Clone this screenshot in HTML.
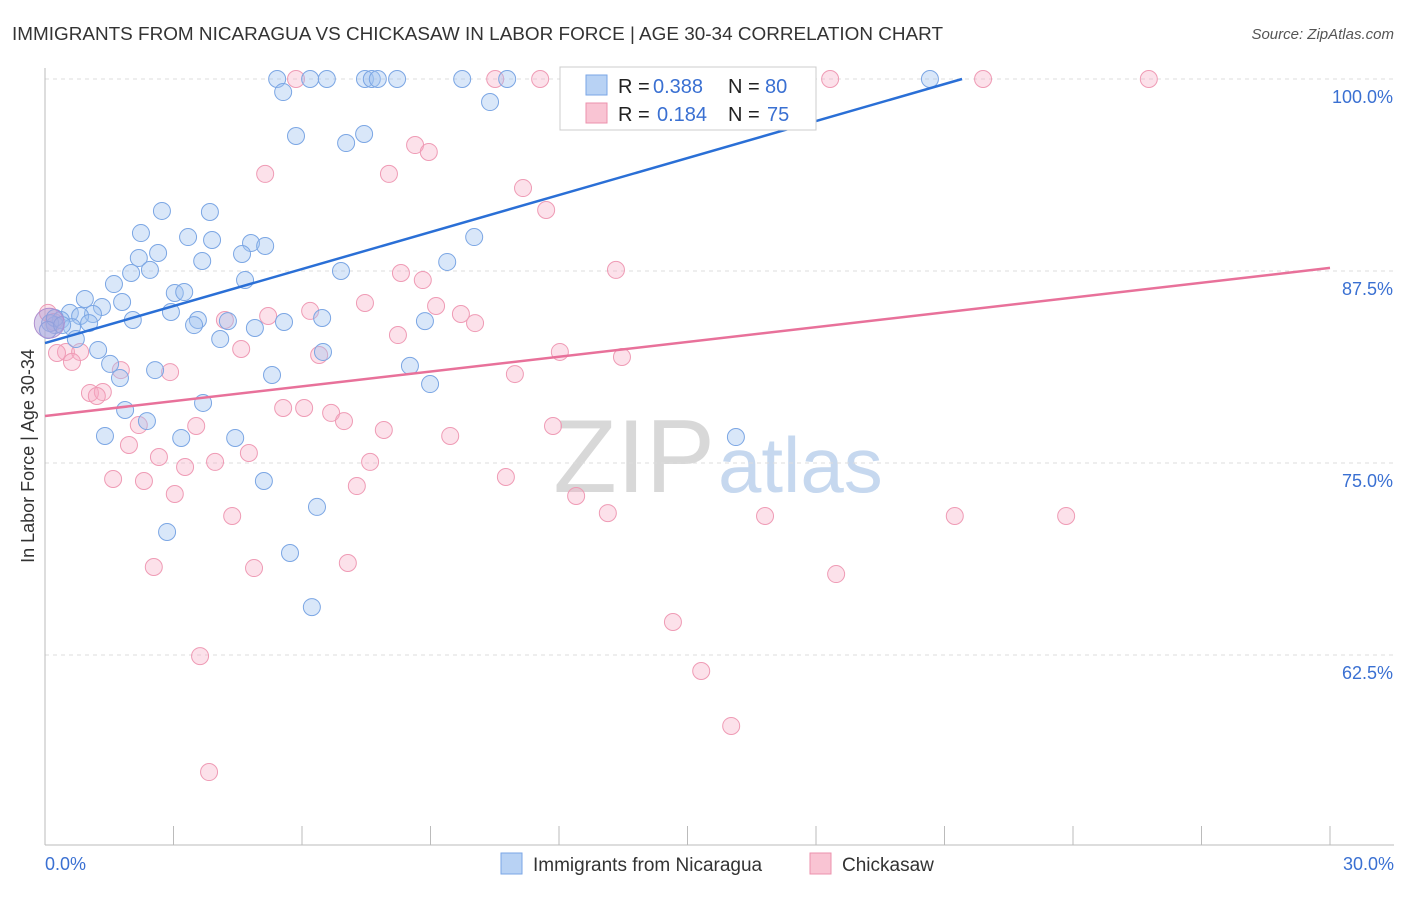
<!DOCTYPE html>
<html><head><meta charset="utf-8"><style>
body{margin:0;background:#fff;font-family:"Liberation Sans",sans-serif}
svg text{font-family:"Liberation Sans",sans-serif}
</style></head><body>
<svg id="c" width="1406" height="892" xmlns="http://www.w3.org/2000/svg">
<text x="12" y="40" font-size="18" fill="#333" textLength="931" lengthAdjust="spacingAndGlyphs">IMMIGRANTS FROM NICARAGUA VS CHICKASAW IN LABOR FORCE | AGE 30-34 CORRELATION CHART</text>
<text x="1394" y="39" font-size="15" fill="#555" font-style="italic" text-anchor="end">Source: ZipAtlas.com</text>
<text x="715" y="492" font-size="104" fill="#d8d8d8" text-anchor="end" font-family="Liberation Serif">ZIP</text>
<text x="718" y="492" font-size="78" fill="#c6d8ef">atlas</text>
<text transform="translate(34,456) rotate(-90)" font-size="18" fill="#333" text-anchor="middle">In Labor Force | Age 30-34</text>
<g id="grid"></g><g id="pts"></g><g id="trend"></g>
<g>
<rect x="560" y="67" width="256" height="63" fill="#fff" stroke="#ccc"/>
<rect x="586" y="75" width="21" height="20" fill="#b8d2f4" stroke="#7aa6e6"/>
<rect x="586" y="103" width="21" height="20" fill="#f9c4d3" stroke="#ec92ad"/>
<text x="618" y="93" font-size="20" fill="#222">R =</text>
<text x="653" y="93" font-size="20" fill="#3a70d2">0.388</text>
<text x="728" y="93" font-size="20" fill="#222">N =</text>
<text x="765" y="93" font-size="20" fill="#3a70d2">80</text>
<text x="618" y="121" font-size="20" fill="#222">R =</text>
<text x="657" y="121" font-size="20" fill="#3a70d2">0.184</text>
<text x="728" y="121" font-size="20" fill="#222">N =</text>
<text x="767" y="121" font-size="20" fill="#3a70d2">75</text>
</g>
<g>
<rect x="501" y="853" width="21" height="21" fill="#b8d2f4" stroke="#7aa6e6"/>
<text x="533" y="871" font-size="19" fill="#333">Immigrants from Nicaragua</text>
<rect x="810" y="853" width="21" height="21" fill="#f9c4d3" stroke="#ec92ad"/>
<text x="842" y="871" font-size="19" fill="#333">Chickasaw</text>
</g>
</svg>
<script>
const blueX=[5.42,5.56,6.19,6.58,7.47,7.63,7.77,8.22,9.74,10.79,20.66,10.39,5.86,7.03,7.45,2.73,3.85,2.24,3.34,3.90,2.64,2.19,4.81,5.14,4.60,3.67,2.01,2.45,4.67,1.61,6.91,9.39,10.02,0.93,1.33,1.80,3.03,3.25,0.58,1.12,0.82,1.03,0.37,0.23,0.63,2.05,2.94,3.57,3.48,4.27,4.90,5.58,6.47,8.87,4.09,0.72,1.24,6.49,1.52,2.57,1.75,5.30,8.52,8.99,3.69,1.87,2.38,1.40,3.18,4.44,16.13,5.11,6.35,2.85,5.72,6.23,0.12,0.23,0.07,0.40];
const blueY=[100,99.15,100,100,100,100,100,100,100,100,100,98.5,96.29,95.83,96.42,91.41,91.34,89.97,89.71,89.52,88.67,88.35,89.32,89.13,88.61,88.15,87.37,87.57,86.91,86.65,87.5,88.09,89.71,85.68,85.16,85.48,86.07,86.13,84.77,84.70,84.57,84.11,84.31,83.98,83.85,84.31,84.83,84.31,83.98,84.24,83.79,84.18,84.44,84.24,83.07,83.07,82.36,82.23,81.45,81.05,80.53,80.73,81.32,80.14,78.91,78.45,77.73,76.76,76.63,76.63,76.69,73.83,72.14,70.51,69.14,65.62,84.11,84.44,83.66,83.98];
const pinkX=[5.86,10.51,11.56,16.93,18.33,21.90,25.77,8.64,8.96,5.14,8.03,11.16,11.70,13.33,8.31,8.82,7.47,9.13,5.21,6.19,9.71,10.04,4.20,8.24,0.07,0.21,0.49,0.82,0.28,0.63,4.58,6.40,12.02,13.47,1.77,2.92,10.97,1.05,1.35,1.21,5.56,6.05,6.68,6.98,3.53,7.91,9.46,11.86,2.19,1.96,4.76,2.66,3.27,3.97,7.59,1.59,2.31,3.03,7.28,10.76,12.40,13.14,4.37,16.81,21.24,23.84,2.54,4.88,7.07,18.47,14.66,15.32,3.62,16.02,3.83];
const pinkY=[100,100,100,100,100,100,100,95.70,95.25,93.82,93.82,92.90,91.47,87.57,87.37,86.91,85.42,85.22,84.57,84.90,84.70,84.11,84.31,83.33,84.77,84.18,82.23,82.23,82.16,81.58,82.42,82.03,82.23,81.90,81.05,80.92,80.79,79.56,79.62,79.36,78.58,78.58,78.26,77.73,77.41,77.15,76.76,77.41,77.47,76.17,75.65,75.39,74.74,75.07,75.07,73.96,73.83,72.98,73.50,74.09,72.85,71.74,71.55,71.55,71.55,71.55,68.23,68.16,68.49,67.77,64.65,61.46,62.43,57.88,54.88];
const blueTrend=[0,82.81,21.41,100];
const pinkTrend=[0,78.06,30,87.70];
const yTicks=[100,87.5,75,62.5];
const yTickLabels=["100.0%","87.5%","75.0%","62.5%"];
const xTicks=[0,3,6,9,12,15,18,21,24,27,30];
const NS='http://www.w3.org/2000/svg';
const sx=v=>45+v/30*1285;
const sy=v=>79+(100-v)/12.5*192;
function mk(t,a,p){const e=document.createElementNS(NS,t);for(const k in a)e.setAttribute(k,a[k]);p.appendChild(e);return e;}
const grid=document.getElementById('grid');
yTicks.forEach((t,i)=>{
 const l=mk('line',{x1:45,x2:1394,y1:sy(t),y2:sy(t),stroke:'#ddd','stroke-dasharray':'4,4'},grid);
 
 
 const tx=mk('text',{x:1393,y:sy(t)+24,'font-size':18,fill:'#3a70d2','text-anchor':'end'},grid);
 tx.textContent=yTickLabels[i];
 
 
});
const ax=mk('line',{x1:45,x2:45,y1:68,y2:845,stroke:'#bbb'},grid);


const bx=mk('line',{x1:45,x2:1394,y1:845,y2:845,stroke:'#bbb'},grid);


xTicks.forEach(t=>{
 const l=mk('line',{x1:sx(t),x2:sx(t),y1:826,y2:845,stroke:'#bbb'},grid);
 
 
});
const x0=mk('text',{x:45,y:870,'font-size':18,fill:'#3a70d2'},grid);x0.textContent='0.0%';


const x1=mk('text',{x:1394,y:870,'font-size':18,fill:'#3a70d2','text-anchor':'end'},grid);x1.textContent='30.0%';


const pts=document.getElementById('pts');
pinkX.forEach((v,i)=>{
 const c=mk('circle',{cx:sx(v),cy:sy(pinkY[i]),r:8.5,fill:'rgba(246,170,195,0.35)',stroke:'#ef9bb5','stroke-width':1},pts);
 
 
});
blueX.forEach((v,i)=>{
 const c=mk('circle',{cx:sx(v),cy:sy(blueY[i]),r:8.5,fill:'rgba(160,195,240,0.4)',stroke:'#7ba6e4','stroke-width':1},pts);
 
 
});
const big=mk('circle',{cx:sx(0.1),cy:sy(84.1),r:15,fill:'rgba(170,150,210,0.45)',stroke:'#b08fcf'},pts);


const tr=document.getElementById('trend');
const bl=mk('line',{x1:sx(blueTrend[0]),y1:sy(blueTrend[1]),x2:sx(blueTrend[2]),y2:sy(blueTrend[3]),stroke:'#2a6fd6','stroke-width':2.5},tr);


const pl=mk('line',{x1:sx(pinkTrend[0]),y1:sy(pinkTrend[1]),x2:sx(pinkTrend[2]),y2:sy(pinkTrend[3]),stroke:'#e8719a','stroke-width':2.5},tr);


</script>
</body></html>
